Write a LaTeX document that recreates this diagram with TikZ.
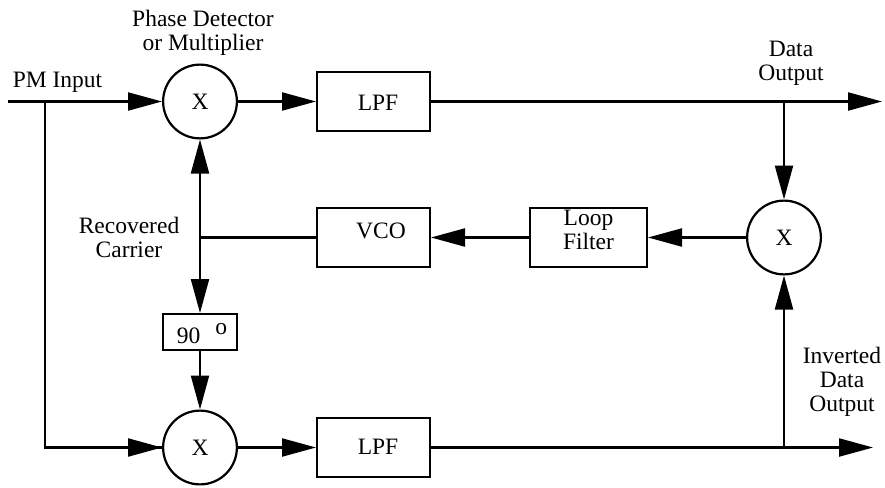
\documentclass[tikz,border=0pt]{standalone}
\usepackage{fontspec}
\setmainfont{Liberation Serif}
\usetikzlibrary{arrows.meta}
\newcommand\fsz{\fontsize{23.5pt}{24pt}\selectfont}
\newcommand\stk[1]{\begin{tabular}[b]{@{}c@{}}#1\end{tabular}}
\newcommand\inbox[2]{\raisebox{#1}[0pt][0pt]{#2}}
\begin{document}
\begin{tikzpicture}[x=1pt,y=-1pt,
  every node/.style={font=\fsz},
  ln/.style={line width=2.2pt},
  arr/.style={ln, -{Triangle[length=34pt,width=18pt]}},
  blk/.style={draw, ln, rectangle, minimum width=112.8pt, minimum height=58.8pt, inner sep=0pt},
  mul/.style={draw, ln, circle, minimum size=73.8pt, inner sep=0pt},
  lbl/.style={anchor=base, inner sep=0pt}]
\useasboundingbox (0,0) rectangle (885,487);

% multipliers
\node[mul] (c1) at (200,101.5) {\inbox{-8pt}{X}};
\node[mul] (c2) at (784,237.5) {\inbox{-8pt}{X}};
\node[mul] (c3) at (200,447.5) {\inbox{-8pt}{X}};

% blocks
\node[blk] (lpf1) at (373.5,101.5) {\inbox{-8.5pt}{\hspace{9pt}LPF}};
\node[blk] (vco) at (373.5,237.5) {\inbox{-1pt}{\hspace{15pt}VCO}};
\node[blk, minimum width=116.8pt] (lf) at (588.5,237.5) {\inbox{-12pt}{\stk{Loop\\Filter}}};
\node[blk, minimum width=73.8pt, minimum height=35.8pt] (ph) at (200,332) {\inbox{-11pt}{\hspace{4pt}90\hspace{15pt}\raisebox{9pt}{o}}};
\node[blk] (lpf2) at (373.5,447.5) {\inbox{-7pt}{\hspace{9pt}LPF}};

% coordinates
\coordinate (in) at (8,101.5);
\coordinate (j1) at (45,101.5);
\coordinate (b1) at (784,101.5);
\coordinate (dout) at (882,101.5);
\coordinate (b2) at (784,447.5);
\coordinate (iout) at (873,447.5);
\coordinate (jc) at (200,237.5);

% connectors
\draw[arr] (in) -- (c1.west);
\draw[ln] (j1) |- (c3.west);
\draw[arr] (j1 |- c3.west) -- (c3.west);
\draw[arr] (c1.east) -- (lpf1.west);
\draw[arr] (lpf1.east) -- (dout);
\draw[arr] (b1) -- (c2.north);
\draw[arr] (c2.west) -- (lf.east);
\draw[arr] (lf.west) -- (vco.east);
\draw[ln] (vco.west) -- (jc);
\draw[arr] (jc) -- (c1.south);
\draw[arr] (jc) -- (ph.north);
\draw[arr] (ph.south) -- (c3.north);
\draw[arr] (c3.east) -- (lpf2.west);
\draw[arr] (lpf2.east) -- (iout);
\draw[arr] (b2) -- (c2.south);

% labels
\node[lbl] (tpd) at (203,51) {\stk{Phase Detector\\or Multiplier}};
\node[lbl] (tin) at (57.5,87) {PM Input};
\node[lbl] (tdo) at (791,80) {\stk{Data\\Output}};
\node[lbl] (trc) at (129,257) {\stk{Recovered\\Carrier}};
\node[lbl] (tid) at (842,411) {\stk{Inverted\\Data\\Output}};
\end{tikzpicture}
\end{document}
